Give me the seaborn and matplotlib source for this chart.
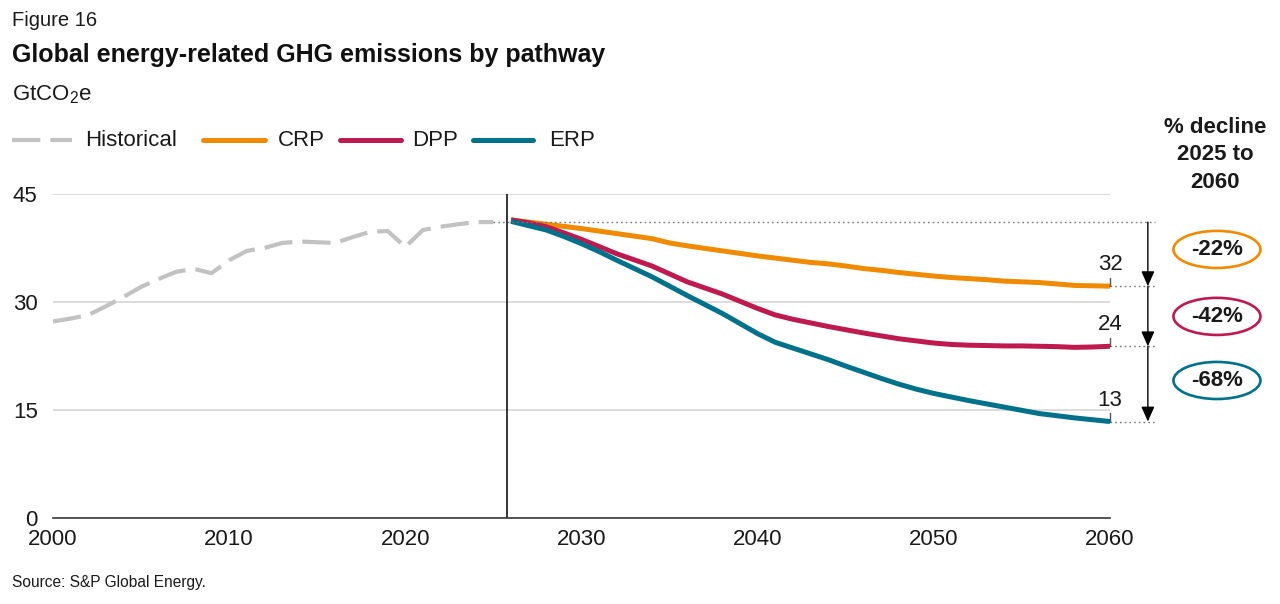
import numpy as np
import pandas as pd
import matplotlib
matplotlib.use("Agg")
import matplotlib.pyplot as plt
import seaborn as sns
from matplotlib.patches import Ellipse
from matplotlib.lines import Line2D

# ---------------- data ----------------
hist_years = list(range(2000, 2026))
hist_values = [27.3, 27.7, 28.2, 29.4, 30.7, 32.1, 33.2, 34.2, 34.6, 34.0,
               35.8, 37.1, 37.5, 38.2, 38.4, 38.3, 38.2, 39.0, 39.75, 39.85,
               37.65, 40.0, 40.45, 40.8, 41.1, 41.1]

proj_years = list(range(2026, 2061))
crp = [41.4, 41.1, 40.8, 40.5, 40.2, 39.85, 39.5, 39.15, 38.8, 38.2,
       37.8, 37.45, 37.1, 36.75, 36.4, 36.1, 35.8, 35.5, 35.3, 35.0,
       34.65, 34.4, 34.1, 33.85, 33.6, 33.4, 33.25, 33.1, 32.9, 32.8,
       32.7, 32.5, 32.3, 32.25, 32.2]
dpp = [41.4, 41.0, 40.45, 39.6, 38.7, 37.7, 36.7, 35.85, 35.0, 33.9,
       32.8, 31.95, 31.1, 30.1, 29.1, 28.2, 27.6, 27.1, 26.6, 26.15,
       25.7, 25.3, 24.9, 24.6, 24.3, 24.1, 24.0, 23.95, 23.9, 23.9,
       23.85, 23.8, 23.7, 23.75, 23.85]
erp = [41.2, 40.6, 40.0, 39.1, 38.1, 37.0, 35.8, 34.65, 33.5, 32.2,
       30.9, 29.65, 28.4, 27.0, 25.6, 24.4, 23.6, 22.8, 22.0, 21.1,
       20.25, 19.4, 18.6, 17.9, 17.3, 16.8, 16.3, 15.85, 15.4, 14.95,
       14.5, 14.2, 13.9, 13.65, 13.4]

pathways = ["CRP", "DPP", "ERP"]
end_labels = ["32", "24", "13"]
pct_labels = ["-22%", "-42%", "-68%"]
x_ticks = [2000, 2010, 2020, 2030, 2040, 2050, 2060]
y_ticks = [0, 15, 30, 45]

colors = {"CRP": "#F08A00", "DPP": "#BE1A4F", "ERP": "#00718A"}
hist_color = "#C2C2C2"

# ---------------- style ----------------
sns.set_theme(style="white")
plt.rcParams["font.family"] = ["Liberation Sans", "DejaVu Sans"]
plt.rcParams["mathtext.fontset"] = "custom"
plt.rcParams["mathtext.rm"] = "Liberation Sans"
plt.rcParams["mathtext.it"] = "Liberation Sans:italic"
plt.rcParams["mathtext.bf"] = "Liberation Sans:bold"

W, H = 1280, 604
fig = plt.figure(figsize=(W / 100, H / 100), dpi=100)
fig.patch.set_facecolor("white")

L, R, T, B = 53, 1110, 194, 518
ax = fig.add_axes([L / W, 1 - B / H, (R - L) / W, (B - T) / H])
ax.set_facecolor("white")

def fx(px):
    return px / W

def fy(py):
    return 1 - py / H

# ---------------- series ----------------
df_hist = pd.DataFrame({"year": hist_years, "value": hist_values})
sns.lineplot(data=df_hist, x="year", y="value", ax=ax, color=hist_color,
             lw=3.0, legend=False)
hist_line = ax.lines[-1]
hist_line.set_dashes((6.8, 2.4))
hist_line.set_dash_capstyle("butt")

df_proj = pd.DataFrame({
    "year": proj_years * 3,
    "value": crp + dpp + erp,
    "pathway": ["CRP"] * len(crp) + ["DPP"] * len(dpp) + ["ERP"] * len(erp),
})
sns.lineplot(data=df_proj, x="year", y="value", hue="pathway",
             hue_order=pathways, palette=colors, ax=ax, lw=3.6,
             legend=False)
for ln in ax.lines[1:]:
    ln.set_solid_capstyle("butt")

# ---------------- axes ----------------
ax.set_xlim(2000, 2060)
ax.set_ylim(0, 45)
ax.set_xticks(x_ticks)
ax.set_yticks(y_ticks)
ax.set_xlabel("")
ax.set_ylabel("")
ax.tick_params(axis="both", length=0, labelsize=16, colors="#1a1a1a")
ax.tick_params(axis="x", pad=8)
ax.tick_params(axis="y", pad=11)
ax.yaxis.grid(True, color="#D9D9D9", lw=1.3)
ax.xaxis.grid(False)
for s in ["top", "right", "left"]:
    ax.spines[s].set_visible(False)
ax.spines["bottom"].set_color("#3a3a3a")
ax.spines["bottom"].set_linewidth(1.2)
ax.set_axisbelow(True)

# projection start divider
ax.axvline(2025.75, color="black", lw=1.1, zorder=1)

# ---------------- right-hand annotations ----------------
base = hist_values[-1]
ends = [crp[-1], dpp[-1], erp[-1]]
x_end = proj_years[-1]
x_dot_end = 2062.55
x_arrow = 2062.15
dot_kw = dict(color="#777777", lw=1.0, linestyle=(0, (1.2, 2.2)),
              clip_on=False, zorder=2)

ax.plot([hist_years[-1], x_dot_end], [base, base], **dot_kw)
for v in ends:
    ax.plot([x_end, x_dot_end], [v, v], **dot_kw)

prev = base
for v in ends:
    ax.annotate("", xy=(x_arrow, v), xytext=(x_arrow, prev),
                arrowprops=dict(arrowstyle="-|>,head_length=0.45,head_width=0.2",
                                mutation_scale=20, color="black", lw=1.0,
                                shrinkA=0, shrinkB=0),
                annotation_clip=False)
    prev = v

for v, lab in zip(ends, end_labels):
    ax.plot([x_end, x_end], [v, v + 1.2], color="#555555", lw=1.0,
            clip_on=False, zorder=3)
    ax.text(x_end, v + 1.5, lab, ha="center", va="bottom", fontsize=16,
            color="#1a1a1a", clip_on=False)

pct_y = [37.3, 28.0, 19.1]
for p, lab, yc in zip(pathways, pct_labels, pct_y):
    e = Ellipse((2066.07, yc), width=4.94, height=5.15, fill=False,
                edgecolor=colors[p], lw=1.9, clip_on=False)
    ax.add_patch(e)
    ax.text(2066.07, yc, lab, ha="center", va="center", fontsize=16,
            fontweight="bold", color="#1a1a1a", clip_on=False)

fig.text(fx(1215), fy(155), "% decline\n2025 to\n2060", ha="center",
         va="center", fontsize=16, fontweight="bold", color="#1a1a1a",
         linespacing=1.38)

# ---------------- titles ----------------
fig.text(fx(12), fy(20), "Figure 16", fontsize=14.5, va="center",
         color="#1a1a1a")
fig.text(fx(12), fy(55), "Global energy-related GHG emissions by pathway",
         fontsize=18, fontweight="bold", va="center", color="#111111")
fig.text(fx(12), fy(95), "GtCO$_2$e", fontsize=16, va="center",
         color="#1a1a1a")
fig.text(fx(12), fy(582), "Source: S&P Global Energy.", fontsize=11.2,
         va="center", color="#1a1a1a")

# ---------------- legend (manual) ----------------
leg_y = fy(140)
hist_h = Line2D([fx(12), fx(72)], [leg_y, leg_y], transform=fig.transFigure,
                color=hist_color, lw=3.0)
hist_h.set_dashes((6.8, 2.4))
fig.add_artist(hist_h)
fig.text(fx(85), leg_y, "Historical", fontsize=16, va="center",
         color="#1a1a1a")
leg_pos = [(203, 265, 278), (340, 401, 412), (473, 533, 549)]
for p, (x0, x1, xt) in zip(pathways, leg_pos):
    fig.add_artist(Line2D([fx(x0), fx(x1)], [leg_y, leg_y],
                          transform=fig.transFigure, color=colors[p],
                          lw=3.6, solid_capstyle="round"))
    fig.text(fx(xt), leg_y, p, fontsize=16, va="center", color="#1a1a1a")

fig.savefig("out.png", dpi=100, facecolor="white")
